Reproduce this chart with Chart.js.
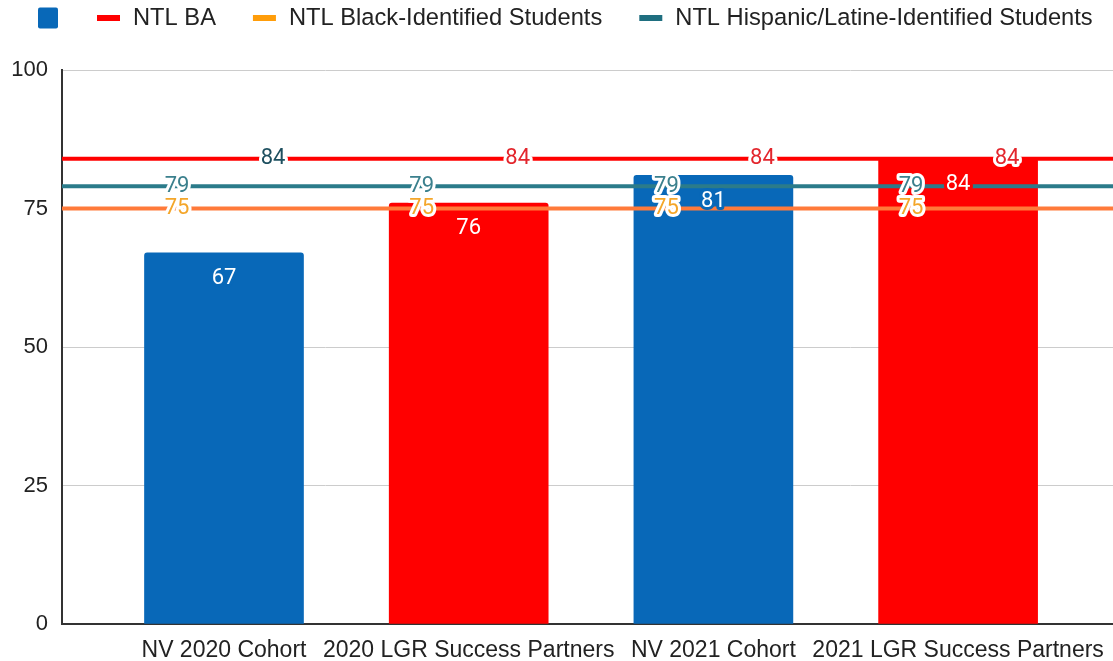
<!DOCTYPE html>
<html>
<head>
<meta charset="utf-8">
<script src="https://cdn.jsdelivr.net/npm/chart.js@4.4.1/dist/chart.umd.min.js"></script>
<style>
  html, body { margin: 0; padding: 0; background: #fff; }
  #wrap { width: 1113px; height: 661px; }
</style>
</head>
<body>
<div id="wrap"><canvas id="comboChart"></canvas></div>
<script>
// data
const categories = ['NV 2020 Cohort', '2020 LGR Success Partners', 'NV 2021 Cohort', '2021 LGR Success Partners'];
const barValues = [67, 76, 81, 84];
const ntlBA = [84, 84, 84, 84];
const ntlBlack = [75, 75, 75, 75];
const ntlHispanic = [79, 79, 79, 79];
const yTicks = [0, 25, 50, 75, 100];

const BLUE = '#0868b8';
const RED = '#ff0000';
const barColors = [BLUE, RED, BLUE, RED];

// x runs as a number so the lines can reach both edges of the plot
const X_MIN = -0.662;
const X_MAX = 3.633;

function lineData(values) {
    const pts = values.map((v, i) => ({ x: i, y: v }));
    return [{ x: X_MIN, y: values[0] }].concat(pts, [{ x: X_MAX, y: values[values.length - 1] }]);
}

const lineSeries = [
    { label: 'NTL BA', values: ntlBA, color: '#ff0000', legendColor: '#ff0000',
      labelColors: ['#1d4f5f', '#e3262d', '#e3262d', '#e3262d'], labelDx: 49 },
    { label: 'NTL Black-Identified Students', values: ntlBlack, color: '#ff7a3a', legendColor: '#ff9d0a',
      labelColors: ['#f4a62a', '#f4a62a', '#f4a62a', '#f4a62a'], labelDx: -47 },
    { label: 'NTL Hispanic/Latine-Identified Students', values: ntlHispanic, color: '#2b7b8a', legendColor: '#1f6f80',
      labelColors: ['#3b808d', '#3b808d', '#3b808d', '#3b808d'], labelDx: -47 }
];

// value labels on bars and lines, white halo like the sheet export
const labelPlugin = {
    id: 'valueLabels',
    afterDatasetsDraw(chart) {
        const ctx = chart.ctx;
        const xs = chart.scales.x, ys = chart.scales.y;
        ctx.save();
        ctx.font = '22px Roboto';
        ctx.textAlign = 'center';
        ctx.textBaseline = 'middle';
        ctx.lineJoin = 'round';

        lineSeries.forEach(s => {
            s.values.forEach((v, i) => {
                const x = xs.getPixelForValue(i) + s.labelDx;
                const y = ys.getPixelForValue(v);
                ctx.lineWidth = 6;
                ctx.strokeStyle = '#ffffff';
                ctx.strokeText(String(v), x, y);
                ctx.fillStyle = s.labelColors[i];
                ctx.fillText(String(v), x, y);
            });
        });

        barValues.forEach((v, i) => {
            const x = xs.getPixelForValue(i);
            const y = ys.getPixelForValue(v) + 26;
            ctx.lineWidth = 6;
            ctx.strokeStyle = barColors[i];
            ctx.strokeText(String(v), x, y);
            ctx.fillStyle = '#ffffff';
            ctx.fillText(String(v), x, y);
        });
        ctx.restore();
    }
};

// legend row across the top
const legendPlugin = {
    id: 'topLegend',
    afterDraw(chart) {
        const ctx = chart.ctx;
        ctx.save();
        ctx.font = '23.7px "Liberation Sans", Arial, sans-serif';
        ctx.textBaseline = 'middle';
        const cy = 18;
        let x = 38;
        ctx.fillStyle = BLUE;
        ctx.beginPath();
        ctx.roundRect(x, cy - 10.5, 20, 21, 2);
        ctx.fill();
        x += 20 + 39;
        lineSeries.forEach(s => {
            ctx.fillStyle = s.legendColor;
            ctx.fillRect(x, cy - 3, 23, 6);
            x += 23 + 13;
            ctx.fillStyle = '#222222';
            ctx.fillText(s.label, x, cy);
            x += ctx.measureText(s.label).width + 37;
        });
        ctx.restore();
    }
};

const datasets = [
    ...lineSeries.map(s => ({
        type: 'line',
        label: s.label,
        data: lineData(s.values),
        borderColor: s.color,
        borderWidth: 4,
        pointRadius: 0,
        fill: false,
        order: 0
    })),
    {
        type: 'bar',
        label: '',
        data: barValues.map((v, i) => ({ x: i, y: v })),
        backgroundColor: barColors,
        borderRadius: { topLeft: 3, topRight: 3 },
        borderSkipped: 'bottom',
        barThickness: 159,
        order: 1
    }
];

new Chart(document.getElementById('comboChart'), {
    type: 'bar',
    data: { datasets: datasets },
    options: {
        responsive: true,
        maintainAspectRatio: false,
        animation: false,
        layout: { padding: { top: 70, left: 0, right: 0, bottom: 0 } },
        plugins: {
            legend: { display: false },
            tooltip: { enabled: false }
        },
        scales: {
            x: {
                type: 'linear',
                offset: false,
                min: X_MIN,
                max: X_MAX,
                afterBuildTicks(scale) {
                    scale.ticks = categories.map((c, i) => ({ value: i }));
                },
                afterFit(scale) {
                    scale.height = 37;
                    scale.paddingLeft = 0;
                    scale.paddingRight = 0;
                },
                ticks: {
                    callback: (v) => categories[v] || '',
                    color: '#222222',
                    font: { family: '"Liberation Sans", Arial, sans-serif', size: 23 },
                    maxRotation: 0,
                    autoSkip: false,
                    padding: 13
                },
                grid: { display: false, drawTicks: false },
                border: { display: true, color: '#333333', width: 2 }
            },
            y: {
                min: 0,
                max: 100,
                afterBuildTicks(scale) {
                    scale.ticks = yTicks.map(v => ({ value: v }));
                },
                afterFit(scale) { scale.width = 62; },
                ticks: {
                    color: '#222222',
                    font: { family: '"Liberation Sans", Arial, sans-serif', size: 22 },
                    padding: 14
                },
                grid: { color: '#cccccc', lineWidth: 1, drawTicks: false },
                border: { display: true, color: '#333333', width: 2 }
            }
        }
    },
    plugins: [labelPlugin, legendPlugin]
});
</script>
</body>
</html>
